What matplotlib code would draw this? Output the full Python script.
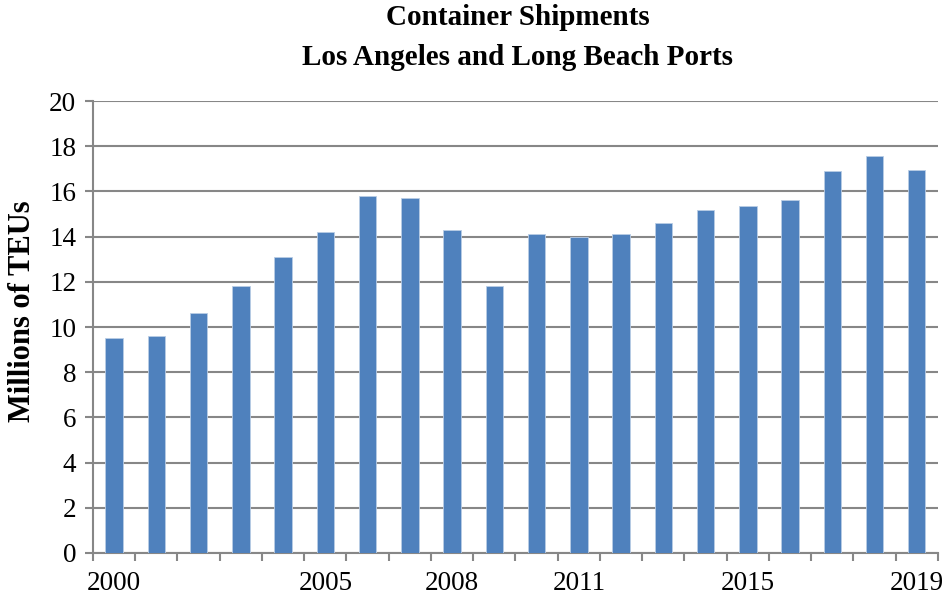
import matplotlib
matplotlib.use("Agg")
import matplotlib.pyplot as plt
import numpy as np

years = list(range(2000, 2020))
teus = [9.5, 9.6, 10.6, 11.8, 13.1, 14.2, 15.8, 15.7, 14.3, 11.8,
        14.1, 14.0, 14.1, 14.6, 15.2, 15.35, 15.6, 16.9, 17.55, 16.95]
label_years = [2000, 2005, 2008, 2011, 2015, 2019]

plt.rcParams['font.family'] = ['Liberation Serif', 'DejaVu Serif']
grid_col = "#878787"

fig = plt.figure(figsize=(9.46, 5.98), dpi=100)
ax = fig.add_axes([0.0983, 0.0753, 0.8932, 0.7557])

x = np.arange(len(years))
ax.bar(x, teus, width=0.41, color="#4F81BD", edgecolor="#B9CDE5", linewidth=0.6, zorder=3)

ax.set_ylim(0, 20)
ax.set_yticks(range(0, 21, 2))
ax.set_xlim(-0.5, len(years) - 0.5)

# tick marks at category boundaries, labels at chosen years
ax.set_xticks(np.arange(-0.5, len(years), 1.0))
ax.set_xticklabels([])
ax.set_xticks([years.index(y) for y in label_years], minor=True)
ax.set_xticklabels([str(y) for y in label_years], minor=True)
ax.tick_params(axis="x", which="major", length=6, width=1.5, color=grid_col, direction="out")
ax.tick_params(axis="x", which="minor", length=0, pad=13, labelsize=19.5)
ax.tick_params(axis="y", length=6, width=1.5, color=grid_col, labelsize=19.5, pad=6)

ax.yaxis.grid(True, color=grid_col, linewidth=1.5, zorder=0)
ax.set_axisbelow(True)
for s in ["top", "right"]:
    ax.spines[s].set_visible(False)
for s in ["left", "bottom"]:
    ax.spines[s].set_color(grid_col)
    ax.spines[s].set_linewidth(1.5)

ax.set_ylabel("Millions of TEUs", fontsize=22, fontweight="bold")
ax.yaxis.set_label_coords(-0.066, 0.535)
fig.text(0.547, 0.97, "Container Shipments", ha="center", va="center", fontsize=21, fontweight="bold")
fig.text(0.547, 0.904, "Los Angeles and Long Beach Ports", ha="center", va="center", fontsize=21, fontweight="bold")

fig.savefig("out.png", dpi=100)
